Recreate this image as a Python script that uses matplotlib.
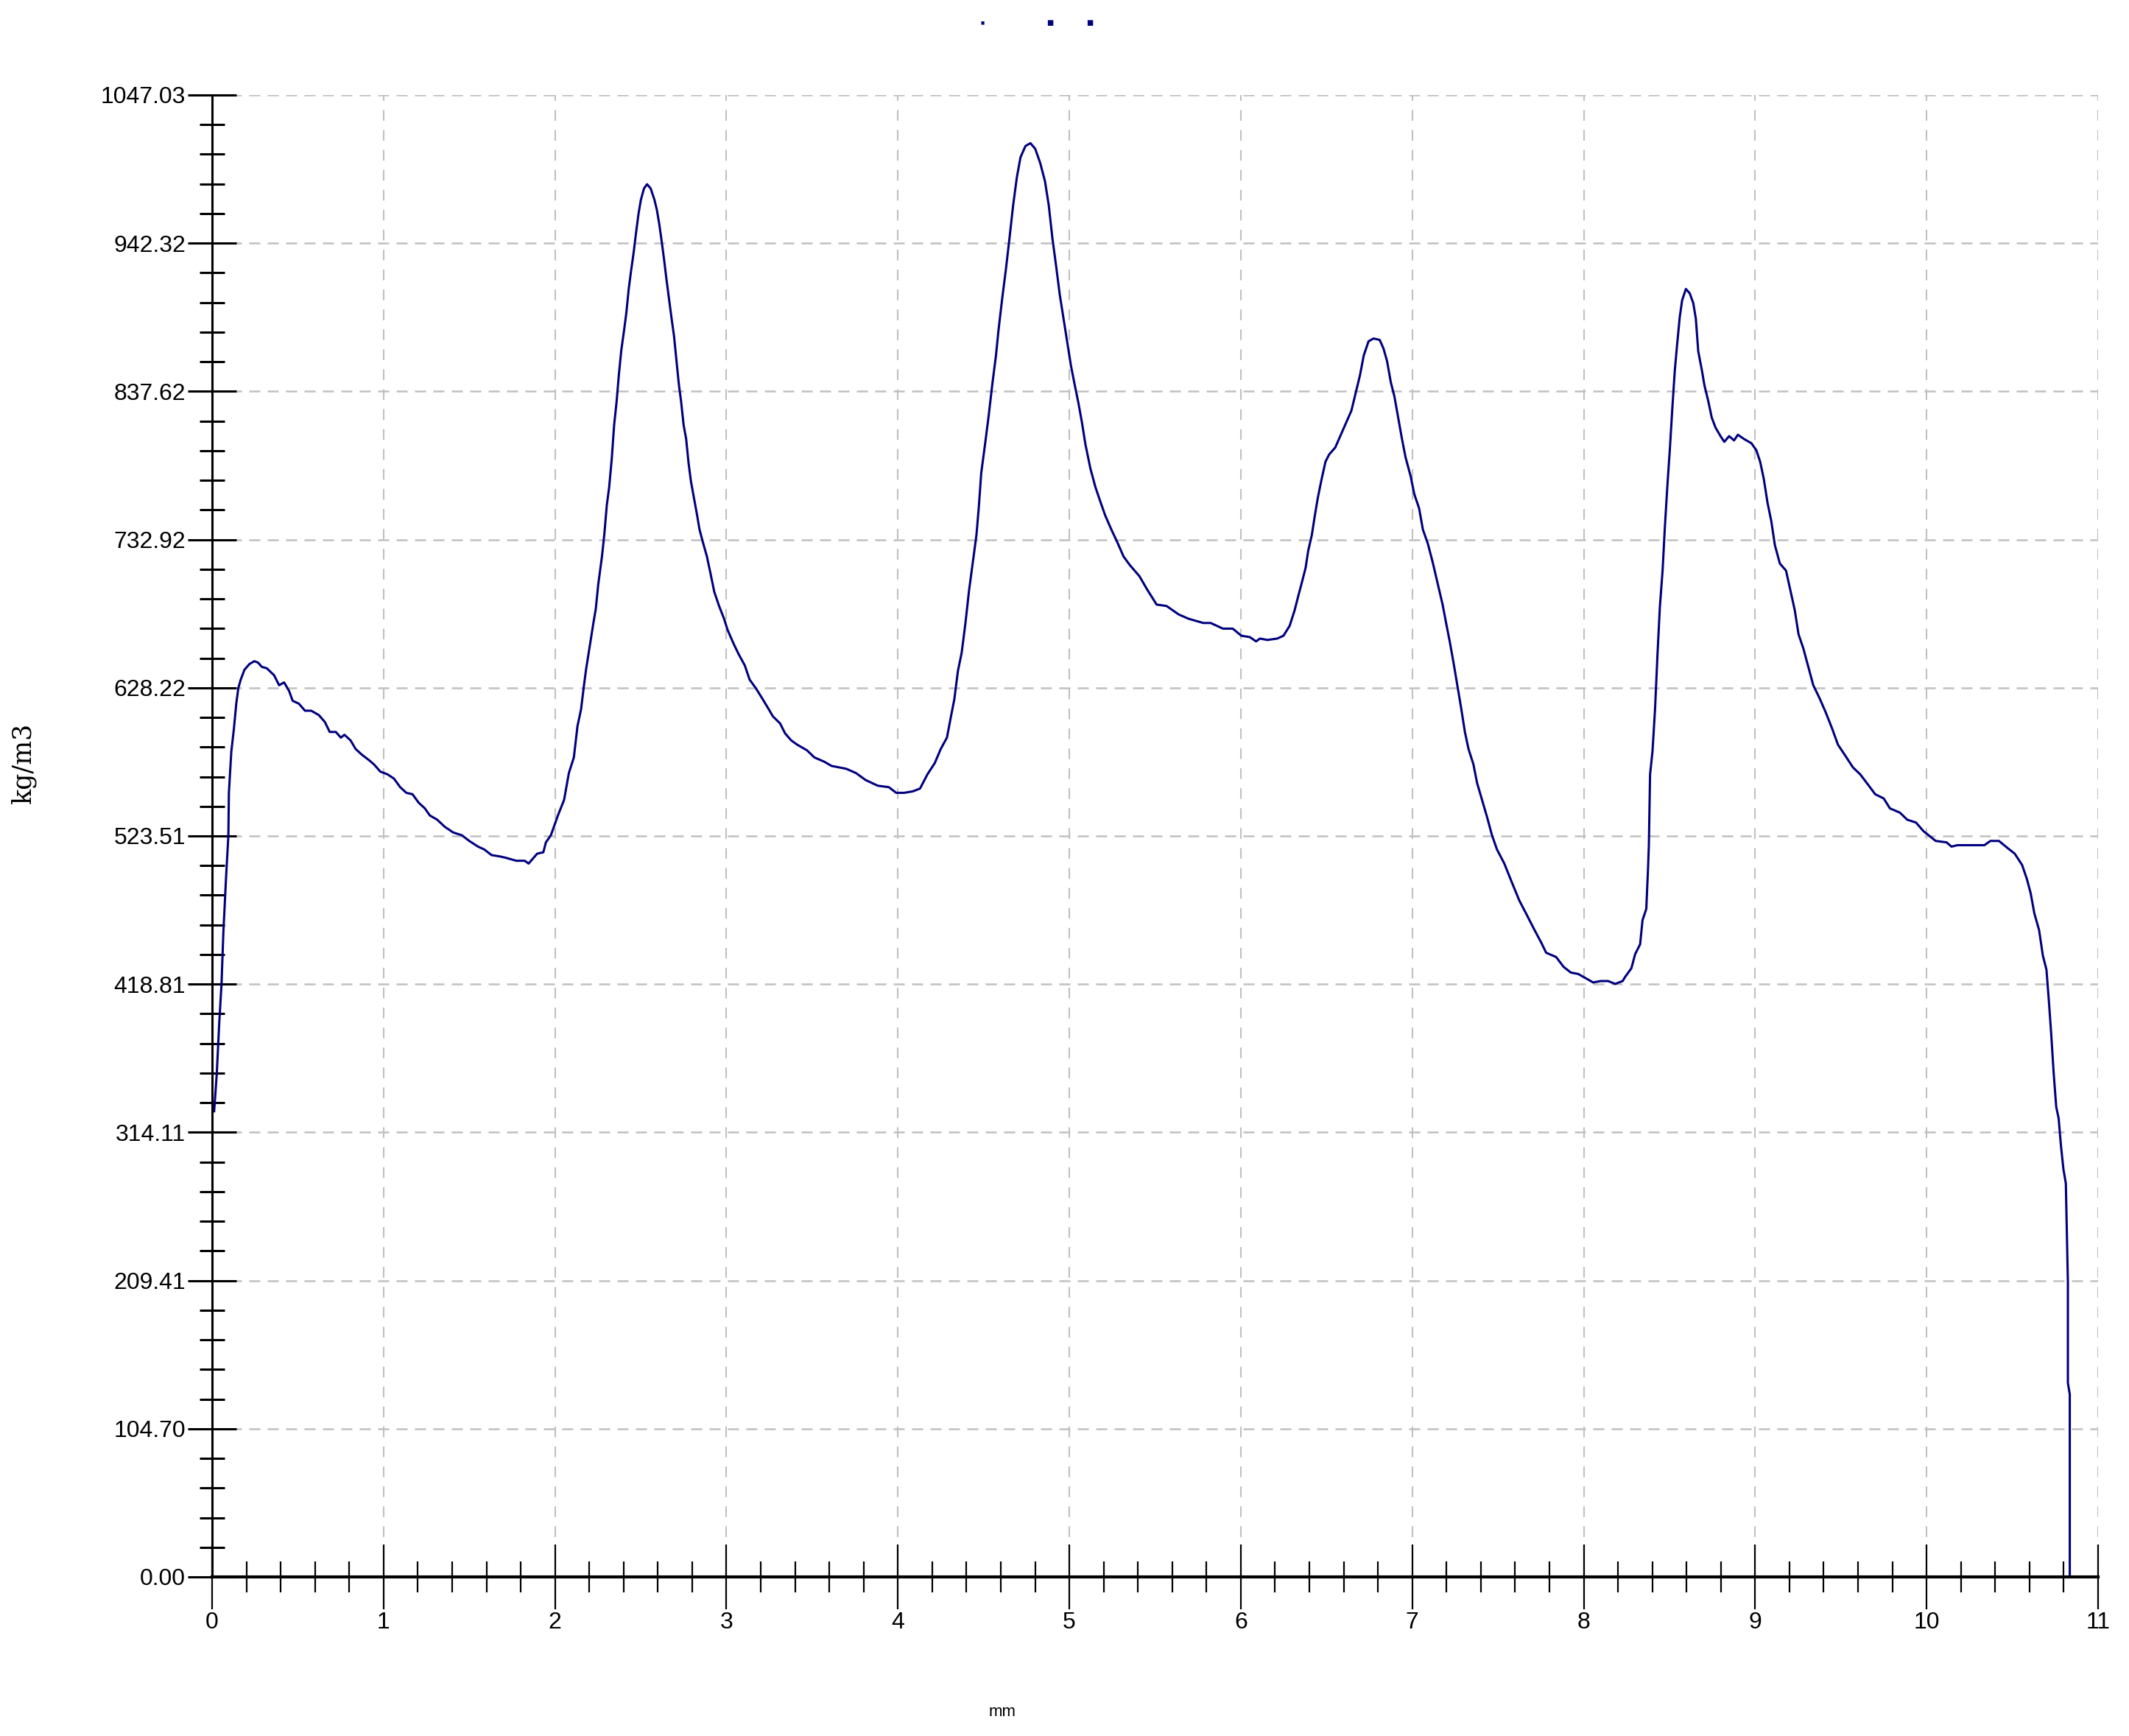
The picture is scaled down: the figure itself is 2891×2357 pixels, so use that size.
#!/usr/bin/env python3

import numpy as np
import matplotlib
matplotlib.use("Agg")
import matplotlib.pyplot as plt
from matplotlib import font_manager
from matplotlib.ticker import MultipleLocator, FixedLocator, FixedFormatter


# density profile: position (mm) and density (kg/m3)
x_mm = [
    0.012, 0.027, 0.042, 0.055, 0.066, 0.081, 0.095, 0.098, 0.112, 0.127,
    0.141, 0.153, 0.167, 0.189, 0.218, 0.246, 0.268, 0.290, 0.319, 0.362,
    0.391, 0.420, 0.449, 0.470, 0.506, 0.542, 0.578, 0.622, 0.658, 0.686,
    0.722, 0.751, 0.772, 0.808, 0.837, 0.873, 0.916, 0.945, 0.981, 1.024,
    1.061, 1.097, 1.133, 1.169, 1.205, 1.241, 1.270, 1.313, 1.357, 1.406,
    1.457, 1.500, 1.551, 1.587, 1.630, 1.681, 1.716, 1.774, 1.824, 1.846,
    1.896, 1.932, 1.947, 1.976, 2.017, 2.053, 2.081, 2.110, 2.131, 2.152,
    2.167, 2.181, 2.202, 2.224, 2.238, 2.252, 2.274, 2.288, 2.302, 2.316,
    2.331, 2.345, 2.359, 2.373, 2.387, 2.402, 2.416, 2.430, 2.444, 2.459,
    2.473, 2.487, 2.501, 2.519, 2.537, 2.558, 2.580, 2.594, 2.608, 2.623,
    2.637, 2.651, 2.665, 2.679, 2.694, 2.708, 2.722, 2.736, 2.750, 2.765,
    2.779, 2.793, 2.808, 2.829, 2.843, 2.865, 2.886, 2.907, 2.929, 2.957,
    2.986, 3.007, 3.043, 3.071, 3.107, 3.135, 3.171, 3.207, 3.242, 3.271,
    3.313, 3.342, 3.378, 3.413, 3.470, 3.513, 3.570, 3.613, 3.698, 3.755,
    3.812, 3.883, 3.947, 3.990, 4.036, 4.086, 4.129, 4.172, 4.215, 4.250,
    4.286, 4.308, 4.329, 4.350, 4.372, 4.393, 4.415, 4.436, 4.458, 4.472,
    4.486, 4.508, 4.529, 4.551, 4.572, 4.586, 4.608, 4.629, 4.651, 4.672,
    4.694, 4.715, 4.744, 4.773, 4.801, 4.830, 4.858, 4.880, 4.901, 4.923,
    4.944, 4.966, 4.987, 5.009, 5.030, 5.052, 5.073, 5.094, 5.123, 5.152,
    5.180, 5.209, 5.245, 5.280, 5.316, 5.352, 5.409, 5.452, 5.509, 5.567,
    5.638, 5.695, 5.781, 5.824, 5.896, 5.953, 6.003, 6.053, 6.089, 6.112,
    6.155, 6.213, 6.249, 6.285, 6.314, 6.335, 6.357, 6.378, 6.393, 6.414,
    6.432, 6.450, 6.472, 6.494, 6.515, 6.551, 6.580, 6.616, 6.645, 6.673,
    6.695, 6.717, 6.745, 6.774, 6.810, 6.832, 6.853, 6.875, 6.896, 6.918,
    6.940, 6.961, 6.990, 7.012, 7.040, 7.062, 7.091, 7.119, 7.148, 7.177,
    7.199, 7.220, 7.242, 7.263, 7.285, 7.307, 7.328, 7.357, 7.378, 7.407,
    7.436, 7.465, 7.494, 7.537, 7.580, 7.624, 7.667, 7.709, 7.753, 7.781,
    7.839, 7.883, 7.925, 7.968, 8.012, 8.055, 8.099, 8.142, 8.184, 8.227,
    8.242, 8.278, 8.300, 8.329, 8.343, 8.365, 8.375, 8.380, 8.387, 8.401,
    8.416, 8.430, 8.444, 8.460, 8.473, 8.488, 8.502, 8.517, 8.531, 8.545,
    8.560, 8.574, 8.596, 8.618, 8.639, 8.654, 8.668, 8.690, 8.704, 8.726,
    8.747, 8.769, 8.798, 8.820, 8.848, 8.877, 8.899, 8.935, 8.978, 9.007,
    9.029, 9.050, 9.072, 9.094, 9.115, 9.144, 9.180, 9.202, 9.231, 9.253,
    9.281, 9.310, 9.339, 9.375, 9.411, 9.447, 9.483, 9.527, 9.570, 9.613,
    9.657, 9.700, 9.750, 9.786, 9.844, 9.887, 9.938, 9.981, 10.053, 10.116,
    10.145, 10.180, 10.337, 10.372, 10.422, 10.472, 10.514, 10.557, 10.585, 10.607,
    10.628, 10.656, 10.678, 10.699, 10.713, 10.727, 10.741, 10.756, 10.770, 10.784,
    10.798, 10.812, 10.824, 10.824, 10.835, 10.835,
]

density = [
    329, 355, 392, 419, 456, 493, 524, 554, 583, 599,
    617, 628, 634, 641, 645, 647, 646, 643, 642, 637,
    630, 632, 626, 619, 617, 612, 612, 609, 604, 597,
    597, 593, 595, 591, 585, 581, 577, 574, 569, 567,
    564, 558, 554, 553, 547, 543, 538, 535, 530, 526,
    524, 520, 516, 514, 510, 509, 508, 506, 506, 504,
    511, 512, 519, 524, 538, 549, 568, 579, 601, 613,
    628, 641, 657, 674, 684, 701, 721, 737, 757, 770,
    790, 814, 830, 850, 867, 880, 893, 910, 923, 936,
    950, 963, 973, 981, 984, 981, 973, 966, 956, 943,
    930, 916, 903, 890, 877, 860, 843, 830, 814, 804,
    787, 774, 764, 750, 740, 730, 721, 709, 696, 686,
    677, 669, 659, 652, 644, 634, 628, 621, 614, 608,
    603, 596, 591, 588, 584, 579, 576, 573, 571, 568,
    563, 559, 558, 554, 554, 555, 557, 567, 575, 585,
    593, 607, 620, 640, 653, 673, 697, 716, 736, 756,
    780, 800, 820, 843, 863, 880, 903, 923, 946, 969,
    989, 1003, 1011, 1013, 1009, 999, 986, 969, 946, 926,
    906, 889, 873, 856, 843, 830, 816, 800, 783, 770,
    760, 750, 740, 731, 721, 715, 707, 698, 687, 686,
    680, 677, 674, 674, 670, 670, 665, 664, 661, 663,
    662, 663, 665, 672, 683, 693, 703, 713, 725, 736,
    750, 763, 776, 788, 793, 798, 806, 816, 824, 838,
    849, 863, 873, 875, 874, 868, 859, 844, 834, 819,
    804, 791, 778, 765, 755, 740, 730, 717, 702, 687,
    673, 660, 645, 630, 614, 597, 585, 574, 561, 549,
    537, 524, 514, 504, 491, 478, 468, 458, 448, 441,
    438, 431, 427, 426, 423, 420, 421, 421, 419, 421,
    424, 430, 440, 447, 464, 472, 500, 517, 567, 583,
    613, 651, 685, 711, 741, 771, 796, 826, 852, 871,
    890, 902, 910, 907, 900, 889, 866, 852, 842, 831,
    819, 812, 806, 802, 806, 803, 807, 804, 801, 796,
    788, 776, 759, 746, 729, 716, 711, 699, 683, 666,
    656, 643, 630, 621, 611, 600, 588, 580, 572, 567,
    560, 553, 550, 543, 540, 535, 533, 527, 520, 519,
    516, 517, 517, 520, 520, 515, 511, 503, 493, 483,
    469, 457, 439, 429, 407, 383, 356, 332, 324, 304,
    288, 278, 208, 137, 129, 0,
]

x_ticks = list(range(12))
x_tick_labels = [str(v) for v in x_ticks]
y_max = 1047.03
y_tick_labels = [
    "0.00", "104.70", "209.41", "314.11", "418.81", "523.51",
    "628.22", "732.92", "837.62", "942.32", "1047.03",
]

LINE_COLOR = "#00007f"
GRID_COLOR = "#c0c0c0"

W, H = 2891, 2357
DPI = 100


def pick_tick_font():
    # the original labels use a tall, narrow face; take the narrowest we have
    names = {f.name for f in font_manager.fontManager.ttflist}
    if "Liberation Sans Narrow" in names:
        return ["Liberation Sans Narrow", "DejaVu Sans"], 27
    return ["Liberation Sans", "DejaVu Sans"], 23


def main():
    tick_font, tick_size = pick_tick_font()

    fig = plt.figure(figsize=(W / DPI, H / DPI), dpi=DPI)
    fig.patch.set_facecolor("white")

    left, right, top, bottom = 288, 2849, 129, 2141
    ax = fig.add_axes([left / W, 1 - bottom / H, (right - left) / W, (bottom - top) / H])

    ax.plot(x_mm, density, color=LINE_COLOR, linewidth=2.2, zorder=3)

    ax.set_xlim(0, 11)
    ax.set_ylim(0, y_max)

    y_step = y_max / 10
    y_ticks = [i * y_step for i in range(len(y_tick_labels))]

    ax.xaxis.set_major_locator(FixedLocator(x_ticks))
    ax.xaxis.set_major_formatter(FixedFormatter(x_tick_labels))
    ax.xaxis.set_minor_locator(MultipleLocator(0.2))
    ax.yaxis.set_major_locator(FixedLocator(y_ticks))
    ax.yaxis.set_major_formatter(FixedFormatter(y_tick_labels))
    ax.yaxis.set_minor_locator(MultipleLocator(y_step / 5))

    ax.tick_params(axis="y", which="major", direction="inout", length=48,
                   width=2.2, pad=2, labelsize=tick_size, color="black")
    ax.tick_params(axis="y", which="minor", direction="inout", length=25,
                   width=2.2, color="black")
    ax.tick_params(axis="x", which="major", direction="inout", length=63,
                   width=1.6, pad=2, labelsize=tick_size, color="black")
    ax.tick_params(axis="x", which="minor", direction="inout", length=30,
                   width=1.6, color="black")

    for lab in ax.get_xticklabels() + ax.get_yticklabels():
        lab.set_family(tick_font)

    ax.xaxis.grid(True, which="major", color=GRID_COLOR, linewidth=1.5,
                  linestyle=(0, (7, 6)), zorder=1)
    ax.yaxis.grid(True, which="major", color=GRID_COLOR, linewidth=1.8,
                  linestyle=(0, (6, 4)), zorder=1)
    ax.set_axisbelow(True)

    ax.spines["top"].set_visible(False)
    ax.spines["right"].set_visible(False)
    ax.spines["left"].set_linewidth(2.2)
    ax.spines["bottom"].set_linewidth(3.0)
    ax.spines["left"].set_zorder(4)
    ax.spines["bottom"].set_zorder(4)

    # axis titles
    fig.text(32 / W, 1 - 1036 / H, "kg/m3", rotation=90, ha="center", va="center",
             fontsize=25, family=["DejaVu Serif"], color="black")
    fig.text(1361 / W, 1 - 2325 / H, "mm", ha="center", va="center",
             fontsize=16, family=["Liberation Sans", "DejaVu Sans"], color="black")

    # tiny blue marks at the top (illegible title remnant)
    for tx, s in [(1334, 4), (1426, 7), (1480, 7)]:
        fig.text(tx / W, 1 - 31 / H, "\u25a0", ha="center", va="center",
                 fontsize=s, color=LINE_COLOR)

    fig.savefig("out.png", dpi=DPI, facecolor="white")
    plt.close(fig)


if __name__ == "__main__":
    main()
